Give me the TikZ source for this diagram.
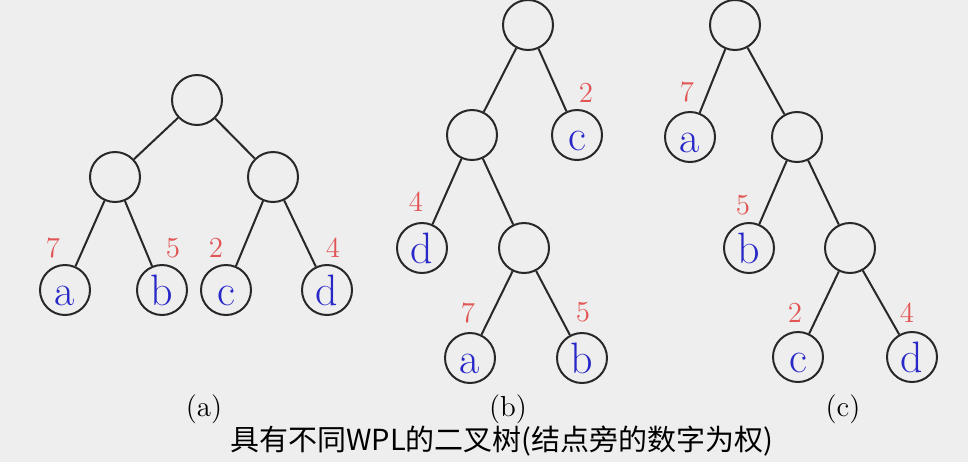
\documentclass[tikz,border=0pt]{standalone}
\usepackage{fontspec}
\newfontfamily\cjkfont{Noto Sans CJK SC}
\definecolor{bggray}{RGB}{238,238,238}
\definecolor{leafblue}{RGB}{40,40,200}
\definecolor{weightred}{RGB}{225,85,85}
\definecolor{edgegray}{RGB}{40,40,40}
\tikzset{
  knot/.style={circle, draw=edgegray, line width=1pt, minimum size=25pt, inner sep=0pt},
  leaf/.style={knot, text=leafblue, font=\fontsize{22}{22}\selectfont, text height=15.4pt, text depth=0pt},
  weight/.style={text=weightred, font=\fontsize{14.5}{14.5}\selectfont, inner sep=0pt},
  tag/.style={font=\fontsize{14.5}{14.5}\selectfont, inner sep=0pt},
  branch/.style={edgegray, line width=1pt}
}

\begin{document}
\begin{tikzpicture}[x=0.5pt, y=-0.5pt]
    % Background and page size (pixel coordinates, y goes down)
    \fill[bggray] (0,0) rectangle (968,462);
    \useasboundingbox (0,0) rectangle (968,462);

    % Tree (a): balanced
    \node[knot] (a-root) at (197,100) {};
    \node[knot] (a-l) at (115,177) {};
    \node[knot] (a-r) at (273,177) {};
    \node[leaf] (a-a) at (65,290) {a};
    \node[leaf] (a-b) at (162,290) {b};
    \node[leaf] (a-c) at (226,290) {c};
    \node[leaf] (a-d) at (327,290) {d};
    \foreach \u/\v in {a-root/a-l, a-root/a-r, a-l/a-a, a-l/a-b, a-r/a-c, a-r/a-d}
    \draw[branch] (\u) -- (\v);
    \node[weight] (a-w7) at (53,248) {7};
    \node[weight] (a-w5) at (173,248) {5};
    \node[weight] (a-w2) at (216,248) {2};
    \node[weight] (a-w4) at (333,248) {4};
    \node[tag] (a-tag) at (204,409) {(a)};

    % Tree (b)
    \node[knot] (b-root) at (528,25) {};
    \node[knot] (b-l) at (472,135) {};
    \node[leaf] (b-c) at (577,135) {c};
    \node[leaf] (b-d) at (422,248) {d};
    \node[knot] (b-m) at (524,248) {};
    \node[leaf] (b-a) at (470,358) {a};
    \node[leaf] (b-b) at (582,358) {b};
    \foreach \u/\v in {b-root/b-l, b-root/b-c, b-l/b-d, b-l/b-m, b-m/b-a, b-m/b-b}
    \draw[branch] (\u) -- (\v);
    \node[weight] (b-w2) at (586,93) {2};
    \node[weight] (b-w4) at (416,202) {4};
    \node[weight] (b-w7) at (468,313) {7};
    \node[weight] (b-w5) at (583,312) {5};
    \node[tag] (b-tag) at (508,409) {(b)};

    % Tree (c)
    \node[knot] (c-root) at (735,25) {};
    \node[leaf] (c-a) at (690,137) {a};
    \node[knot] (c-r) at (797,137) {};
    \node[leaf] (c-b) at (749,248) {b};
    \node[knot] (c-m) at (850,248) {};
    \node[leaf] (c-c) at (798,357) {c};
    \node[leaf] (c-d) at (912,357) {d};
    \foreach \u/\v in {c-root/c-a, c-root/c-r, c-r/c-b, c-r/c-m, c-m/c-c, c-m/c-d}
    \draw[branch] (\u) -- (\v);
    \node[weight] (c-w7) at (687,92) {7};
    \node[weight] (c-w5) at (743,205) {5};
    \node[weight] (c-w2) at (795,313) {2};
    \node[weight] (c-w4) at (907,313) {4};
    \node[tag] (c-tag) at (843,409) {(c)};

    % Caption
    \node[font=\cjkfont\fontsize{14.5}{14.5}\selectfont, inner sep=0pt] (caption) at (502,441) {具有不同WPL的二叉树(结点旁的数字为权)};
\end{tikzpicture}
\end{document}
